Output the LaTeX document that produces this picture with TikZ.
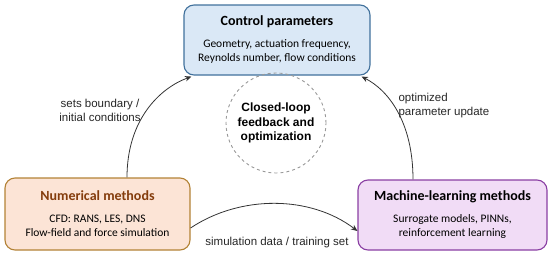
\documentclass[tikz,border=0pt]{standalone}
\usepackage{fontspec}
\setmainfont{Carlito}
\newfontfamily\arialf{Liberation Sans}
\usetikzlibrary{arrows.meta}
\definecolor{ctrlfill}{HTML}{DAE8F6}
\definecolor{ctrldraw}{HTML}{41719C}
\definecolor{numfill}{HTML}{FCE4D6}
\definecolor{numdraw}{HTML}{B38236}
\definecolor{numtitle}{HTML}{843C0C}
\definecolor{mlfill}{HTML}{F1DCF6}
\definecolor{mldraw}{HTML}{8A3FA3}
\definecolor{arrowc}{HTML}{333333}
\tikzset{
  box/.style={draw, line width=1.1pt, rounded corners=10pt, align=center, inner sep=0pt,
    font=\fontsize{11.5}{14.5}\selectfont},
  lab/.style={font=\arialf\fontsize{11.5}{14}\selectfont, align=center, text=black!85},
  conn/.style={draw=arrowc, line width=0.8pt, -{Stealth[length=6.5pt,width=5.5pt]}},
}
\newcommand{\btitle}[1]{{\fontsize{14}{16}\selectfont\bfseries #1}}
\begin{document}
\begin{tikzpicture}[x=1pt,y=-1pt]
\useasboundingbox (0,0) rectangle (550,255);
\node[box, fill=ctrlfill, draw=ctrldraw, minimum width=186pt, minimum height=70pt] (ctrl) at (277,40)
  {\btitle{Control parameters}\\[7pt]Geometry, actuation frequency,\\Reynolds number, flow conditions};
\node[box, fill=numfill, draw=numdraw, minimum width=185pt, minimum height=72pt] (num) at (97.5,214)
  {\textcolor{numtitle}{\btitle{Numerical methods}}\\[7pt]CFD: RANS, LES, DNS\\Flow-field and force simulation};
\node[box, fill=mlfill, draw=mldraw, minimum width=189pt, minimum height=70pt] (ml) at (452.5,215)
  {\btitle{Machine-learning methods}\\[7pt]Surrogate models, PINNs,\\reinforcement learning};
\node[circle, draw=black!40, dashed, line width=0.9pt, minimum size=100pt, align=center,
  font=\arialf\bfseries\fontsize{12}{14.5}\selectfont] (loop) at (276,123)
  {Closed-loop\\feedback and\\optimization};
\draw[conn] ([xshift=29.5pt]num.north) .. controls +(0,-58) and (160,88) .. ([xshift=8pt,yshift=-1pt]ctrl.south west);
\draw[conn] ([xshift=-39.5pt]ml.north) .. controls +(0,-58) and (388,90) .. ([xshift=-9pt,yshift=-1pt]ctrl.south east);
\draw[conn] ([yshift=-14pt]num.east) .. controls (240,195) and (310,195) .. ([yshift=-16pt]ml.west);
\node[lab] (l1) at (100,110) {sets boundary /\\initial conditions};
\node[lab, align=left, anchor=west] (l2) at (395,106) {optimized\\parameter update};
\node[lab] (l3) at (277,243) {simulation data / training set};
\end{tikzpicture}
\end{document}
